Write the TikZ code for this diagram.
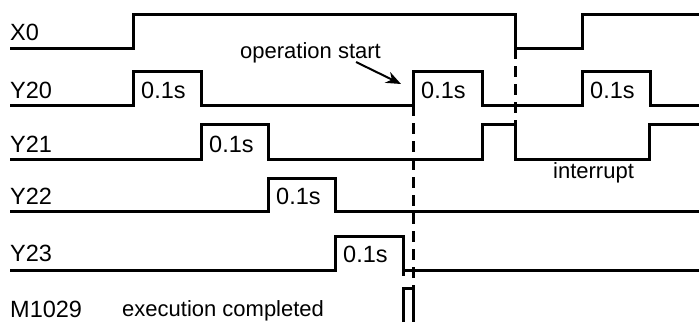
\documentclass[tikz,border=0pt]{standalone}
\usepackage{fontspec}
\setmainfont{Liberation Sans}
\usetikzlibrary{arrows.meta}

\begin{document}
\begin{tikzpicture}[
    x=1pt, y=-1pt,
    >={Stealth[length=15pt,width=12pt]},
    every node/.style={inner sep=0pt, anchor=base west},
    sig/.style={font=\fontsize{23.5}{26}\selectfont},
    note/.style={font=\fontsize{22}{25}\selectfont},
    wave/.style={line width=3pt},
    guide/.style={line width=3pt, dash pattern=on 11pt off 7pt},
    pointer/.style={->, line width=2pt}
]
    \useasboundingbox (0,0) rectangle (699,322);

    % Signal names
    \node[sig] (x0) at (10,40) {X0};
    \node[sig] (y20) at (10,98) {Y20};
    \node[sig] (y21) at (10,152) {Y21};
    \node[sig] (y22) at (10,204) {Y22};
    \node[sig] (y23) at (10,261) {Y23};
    \node[sig] (m1029) at (10,317) {M1029};

    % X0
    \draw[wave] (10,48) -- (133,48) -- (133,14) -- (515,14) -- (515,48) -- (582,48) -- (582,14) -- (699,14);

    % Y20
    \draw[wave] (10,105) -- (133,105) -- (133,71) -- (201,71) -- (201,105) -- (413,105) -- (413,71) -- (482,71)
        -- (482,105) -- (582,105) -- (582,71) -- (650,71) -- (650,105) -- (699,105);
    \node[sig] (t20a) at (141,98) {0.1s};
    \node[sig] (t20b) at (421,98) {0.1s};
    \node[sig] (t20c) at (590,98) {0.1s};

    % Y21
    \draw[wave] (10,159) -- (201,159) -- (201,124) -- (268,124) -- (268,159) -- (482,159) -- (482,124) -- (515,124)
        -- (515,159) -- (649,159) -- (649,124) -- (699,124);
    \node[sig] (t21) at (209,152) {0.1s};

    % Y22
    \draw[wave] (10,211) -- (268,211) -- (268,178) -- (335,178) -- (335,211) -- (699,211);
    \node[sig] (t22) at (276,204) {0.1s};

    % Y23
    \draw[wave] (10,270) -- (335,270) -- (335,236) -- (403,236) -- (403,276);
    \draw[wave] (403,270) -- (699,270);
    \node[sig] (t23) at (343,262) {0.1s};

    % M1029
    \draw[wave] (403,322) -- (403,288) -- (413,288) -- (413,322);

    % Dashed guides
    \draw[guide] (413,105) -- (413,322);
    \draw[guide] (515,48) -- (515,124);

    % Notes
    \node[note] (opstart) at (240,58) {operation start};
    \node[note] (intr) at (553,178) {interrupt};
    \node[note] (done) at (122,316) {execution completed};

    \coordinate (optail) at (356,62);
    \coordinate (optip) at (401,84);
    \draw[pointer] (optail) -- (optip);

\end{tikzpicture}
\end{document}
